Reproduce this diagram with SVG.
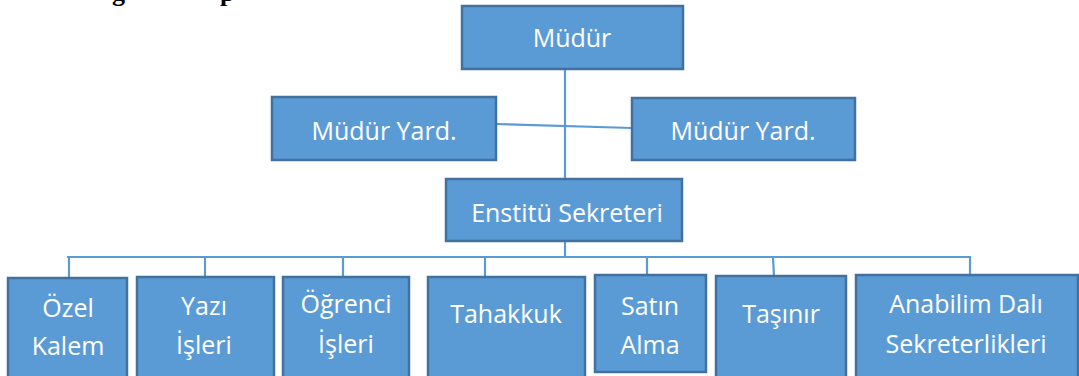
<svg xmlns="http://www.w3.org/2000/svg" width="1079" height="376" viewBox="0 0 1079 376">
<style>
.box{fill:#5B9BD5;stroke:#41719C;stroke-width:2.5}
.t{fill:#fff;font-family:"Open Sans","Noto Sans",sans-serif;font-size:25px;text-anchor:middle}
.c{stroke:#5B9BD5;stroke-width:2.2;fill:none}
.h{font-family:"Liberation Serif",serif;font-weight:bold;font-size:26px;fill:#000}
</style>
<rect width="1079" height="376" fill="#fff"/>
<text class="h" x="112" y="1">g</text>
<text class="h" x="220" y="1">p</text>
<g id="connectors">
<line class="c" x1="565" y1="69" x2="565" y2="180"/>
<line class="c" x1="496" y1="124" x2="632" y2="128"/>
<line class="c" x1="565" y1="241" x2="565" y2="257"/>
<line class="c" x1="67" y1="257" x2="971" y2="257"/>
<line class="c" x1="69" y1="257" x2="69" y2="278"/>
<line class="c" x1="205" y1="257" x2="205" y2="278"/>
<line class="c" x1="343" y1="257" x2="343" y2="278"/>
<line class="c" x1="485" y1="257" x2="485" y2="278"/>
<line class="c" x1="647" y1="257" x2="647" y2="276"/>
<line class="c" x1="773" y1="257" x2="774" y2="277"/>
<line class="c" x1="970" y1="257" x2="970" y2="276"/>
</g>
<g id="mudur"><rect class="box" x="462" y="6" width="221" height="63"/><text class="t" x="572" y="47">Müdür</text></g>
<g id="yard1"><rect class="box" x="272" y="97" width="224" height="63"/><text class="t" x="384" y="140">Müdür Yard.</text></g>
<g id="yard2"><rect class="box" x="632" y="98" width="223" height="62"/><text class="t" x="743" y="140">Müdür Yard.</text></g>
<g id="enstitu"><rect class="box" x="446" y="179" width="236" height="62"/><text class="t" x="567" y="222">Enstitü Sekreteri</text></g>
<g id="ozel"><rect class="box" x="8" y="278" width="119" height="100"/><text class="t" x="68" y="317">Özel</text><text class="t" x="68" y="355">Kalem</text></g>
<g id="yazi"><rect class="box" x="137" y="277" width="137" height="101"/><text class="t" x="204" y="315">Yazı</text><text class="t" x="204" y="354">İşleri</text></g>
<g id="ogrenci"><rect class="box" x="283" y="277" width="126" height="101"/><text class="t" x="346" y="313">Öğrenci</text><text class="t" x="346" y="353">İşleri</text></g>
<g id="tahakkuk"><rect class="box" x="428" y="277" width="157" height="101"/><text class="t" x="506" y="323">Tahakkuk</text></g>
<g id="satin"><rect class="box" x="595" y="275" width="111" height="97"/><text class="t" x="650" y="315">Satın</text><text class="t" x="650" y="354">Alma</text></g>
<g id="tasinir"><rect class="box" x="716" y="276" width="130" height="102"/><text class="t" x="781" y="323">Taşınır</text></g>
<g id="anabilim"><rect class="box" x="856" y="275" width="222" height="103"/><text class="t" x="966" y="313">Anabilim Dalı</text><text class="t" x="966" y="353">Sekreterlikleri</text></g>
</svg>
